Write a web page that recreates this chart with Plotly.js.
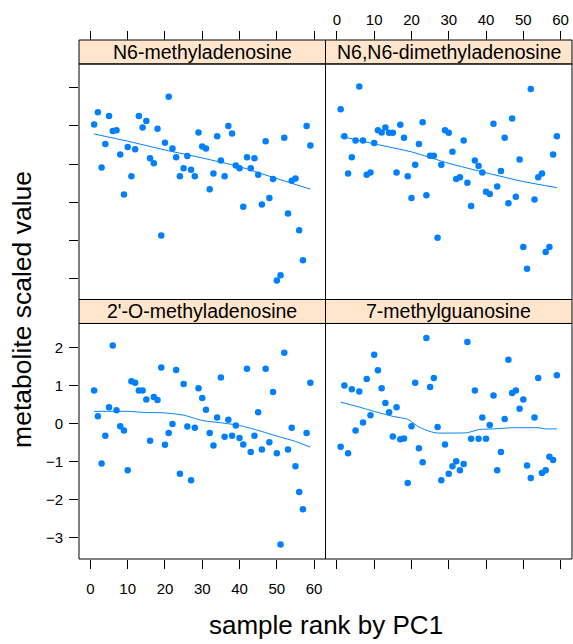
<!DOCTYPE html>
<html>
<head>
<meta charset="utf-8">
<script src="https://cdn.plot.ly/plotly-3.0.1.min.js"></script>
<style>html,body{margin:0;padding:0;background:#fff;}#chart{width:573px;height:644px;}</style>
</head>
<body>
<div id="chart"></div>
<script>
// ---- data ----
const panelNames = ["N6-methyladenosine", "N6,N6-dimethyladenosine", "2'-O-methyladenosine", "7-methylguanosine"];
const sampleRank = [1,2,3,4,5,6,7,8,9,10,11,12,13,14,15,16,17,18,19,20,21,22,23,24,25,26,27,28,29,30,
  31,32,33,34,35,36,37,38,39,40,41,42,43,44,45,46,47,48,49,50,51,52,53,54,55,56,57,58,59];
const n6Methyladenosine = [1.04,1.36,-0.09,0.53,1.26,0.87,0.89,0.25,-0.80,0.45,-0.32,0.39,1.26,0.96,1.13,0.15,0.02,0.93,-1.88,0.56,
  1.77,0.41,0.18,-0.32,-0.11,0.21,-0.15,-0.32,0.83,0.46,0.41,-0.66,-0.25,0.73,0.09,-0.32,1.00,0.80,-0.04,-0.11,
  -1.12,0.18,-0.11,0.15,-0.28,-1.06,0.60,-0.89,-0.39,-3.06,-2.92,0.69,-1.30,-0.44,-0.38,-1.74,-2.53,1.00,0.49];
const n6n6Dimethyladenosine = [1.44,0.73,-0.25,0.18,0.62,2.04,0.62,-0.28,-0.22,0.55,0.89,0.83,0.96,0.82,0.82,-0.22,1.03,0.69,-0.32,-0.89,
  -0.02,0.53,1.10,-0.82,0.22,0.22,-1.94,-0.02,0.89,0.82,0.32,-0.39,-0.35,0.62,-0.49,-1.10,0.09,-0.05,-0.22,-0.73,
  -0.79,1.06,-0.59,-0.18,0.69,-1.03,1.20,-0.86,0.12,-2.18,-2.75,1.97,-0.93,-0.35,-0.25,-2.31,-2.18,0.25,0.73];
const oMethyladenosine = [0.87,0.19,-1.05,-0.32,0.43,2.05,0.35,-0.07,-0.18,-1.23,1.11,1.07,0.87,0.87,0.63,-0.45,0.70,0.62,1.47,-0.56,
  -0.25,-0.01,1.41,-1.32,1.04,-0.08,-1.49,-0.11,0.93,0.67,0.36,-0.25,-0.58,0.16,1.21,-0.35,0.10,-0.32,-0.05,-0.38,
  -0.55,1.44,-0.75,-0.32,0.30,-0.68,1.44,-0.49,0.83,-0.78,-3.18,1.86,-0.68,-0.11,-1.12,-1.80,-2.25,-0.25,1.07];
const methylguanosine7 = [-0.61,1.00,-0.78,0.90,-0.18,0.84,0.03,1.17,0.22,1.81,1.40,0.93,0.54,0.30,-0.34,0.43,-0.41,-0.39,-1.56,-0.07,
  1.07,-0.65,-1.02,2.25,0.96,1.20,-0.09,-1.49,-0.55,-1.32,-1.12,-0.99,-1.23,-1.06,2.14,-0.40,0.87,-0.40,0.16,-0.40,
  -0.04,0.74,-1.23,-0.75,0.12,1.68,0.80,0.87,0.39,0.63,-1.10,-1.43,0.16,1.20,-1.30,-1.23,-0.87,-0.96,1.27];

// smooth (loess) curves
const smoothX1 = [1,10,20,30,40,49,59];
const smoothY1 = [0.79,0.60,0.37,0.16,-0.07,-0.35,-0.66];
const smoothX2 = [1,10,20,30,40,50,59];
const smoothY2 = [0.73,0.53,0.32,0.02,-0.23,-0.46,-0.62];
const smoothX3 = [1,10,15,20,25,30,35,40,45,50,55,59];
const smoothY3 = [0.32,0.32,0.29,0.28,0.22,0.08,0.02,-0.05,-0.18,-0.33,-0.47,-0.62];
const smoothX4 = [1,5,10,15,19,22,25,27,30,35,38,42,47,51,54,56,59];
const smoothY4 = [0.56,0.46,0.32,0.19,0.11,-0.09,-0.21,-0.25,-0.25,-0.24,-0.16,-0.14,-0.11,-0.11,-0.11,-0.14,-0.14];

const xTicks = [0,10,20,30,40,50,60];
const yTicks = [-3,-2,-1,0,1,2];

// ---- chart ----
const blue = "#0080ff";
const FONT = "Liberation Sans, Arial, sans-serif";
const panels = [
  {y: n6Methyladenosine, sx: smoothX1, sy: smoothY1, xa: "x3", ya: "y3"},
  {y: n6n6Dimethyladenosine, sx: smoothX2, sy: smoothY2, xa: "x4", ya: "y4"},
  {y: oMethyladenosine, sx: smoothX3, sy: smoothY3, xa: "x", ya: "y"},
  {y: methylguanosine7, sx: smoothX4, sy: smoothY4, xa: "x2", ya: "y2"}
];
const traces = [];
panels.forEach(p => {
  traces.push({x: sampleRank, y: p.y, xaxis: p.xa, yaxis: p.ya, type: "scatter", mode: "markers",
    marker: {color: blue, size: 6.5}, hoverinfo: "skip", showlegend: false, cliponaxis: false});
  traces.push({x: p.sx, y: p.sy, xaxis: p.xa, yaxis: p.ya, type: "scatter", mode: "lines",
    line: {color: blue, width: 1, shape: "spline", smoothing: 0.6}, hoverinfo: "skip", showlegend: false});
});

const xr = [-3.06, 63.06], yr = [-3.56, 2.63];
const plotH = 0.4538;
const baseX = {range: xr, tickvals: xTicks, ticks: "outside", ticklen: 9, tickwidth: 1, tickcolor: "#000",
  showgrid: false, zeroline: false, showline: false, tickfont: {size: 15, color: "#000", family: FONT}};
const baseY = {range: yr, tickvals: yTicks, ticks: "outside", ticklen: 9, tickwidth: 1, tickcolor: "#000",
  showgrid: false, zeroline: false, showline: false, tickfont: {size: 15, color: "#000", family: FONT}};

const shapes = [];
const annotations = [];
const boxes = [
  {x0: 0, x1: 0.5, y0: 0.5, y1: 0.5 + plotH, name: panelNames[0]},
  {x0: 0.5, x1: 1, y0: 0.5, y1: 0.5 + plotH, name: panelNames[1]},
  {x0: 0, x1: 0.5, y0: 0, y1: plotH, name: panelNames[2]},
  {x0: 0.5, x1: 1, y0: 0, y1: plotH, name: panelNames[3]}
];
boxes.forEach(b => {
  shapes.push({type: "rect", xref: "paper", yref: "paper", x0: b.x0, x1: b.x1, y0: b.y1, y1: b.y0 + 0.5,
    fillcolor: "#ffe5cc", line: {color: "#000", width: 1}, layer: "below"});
  shapes.push({type: "rect", xref: "paper", yref: "paper", x0: b.x0, x1: b.x1, y0: b.y0, y1: b.y1,
    line: {color: "#000", width: 1}});
  annotations.push({xref: "paper", yref: "paper", x: (b.x0 + b.x1) / 2, y: (b.y1 + b.y0 + 0.5) / 2,
    text: b.name, showarrow: false, xanchor: "center", yanchor: "middle",
    font: {size: 19.5, color: "#000", family: FONT}});
});
annotations.push({xref: "paper", yref: "paper", x: 0.5, y: -0.127, text: "sample rank by PC1", showarrow: false,
  xanchor: "center", yanchor: "middle", font: {size: 26, color: "#000", family: FONT}});
annotations.push({xref: "paper", yref: "paper", x: -0.1156, y: 0.48, text: "metabolite scaled value", showarrow: false,
  textangle: -90, xanchor: "center", yanchor: "middle", font: {size: 26.5, color: "#000", family: FONT}});

const layout = {
  width: 573, height: 644,
  margin: {l: 79, r: 1, t: 40, b: 85},
  paper_bgcolor: "#fff", plot_bgcolor: "#fff",
  font: {family: FONT, color: "#000"},
  showlegend: false,
  xaxis: Object.assign({}, baseX, {domain: [0, 0.5], anchor: "y", side: "bottom", ticklabelstandoff: 7}),
  yaxis: Object.assign({}, baseY, {domain: [0, plotH], anchor: "x", side: "left", ticklabelstandoff: 3}),
  xaxis2: Object.assign({}, baseX, {domain: [0.5, 1], anchor: "y2", side: "bottom", showticklabels: false}),
  yaxis2: Object.assign({}, baseY, {domain: [0, plotH], anchor: "x2", ticks: "", showticklabels: false}),
  xaxis3: Object.assign({}, baseX, {domain: [0, 0.5], anchor: "free", position: 1, side: "top", showticklabels: false}),
  yaxis3: Object.assign({}, baseY, {domain: [0.5, 0.5 + plotH], anchor: "x3", side: "left", showticklabels: false}),
  xaxis4: Object.assign({}, baseX, {domain: [0.5, 1], anchor: "free", position: 1, side: "top"}),
  yaxis4: Object.assign({}, baseY, {domain: [0.5, 0.5 + plotH], anchor: "x4", ticks: "", showticklabels: false}),
  shapes: shapes,
  annotations: annotations
};
Plotly.newPlot("chart", traces, layout, {staticPlot: true, displayModeBar: false});
</script>
</body>
</html>
